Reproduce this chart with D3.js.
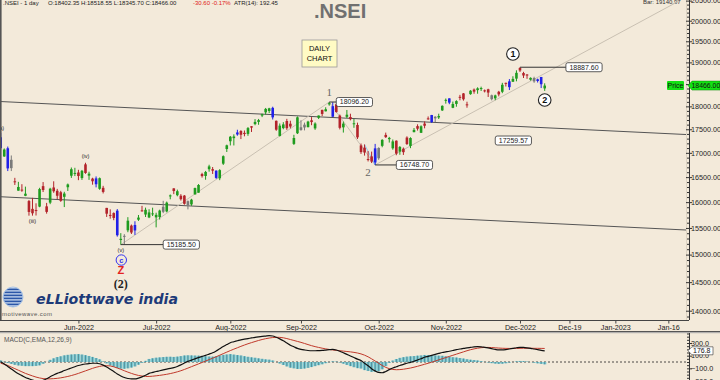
<!DOCTYPE html>
<html>
<head>
<meta charset="utf-8">
<script src="https://cdnjs.cloudflare.com/ajax/libs/d3/7.8.5/d3.min.js"></script>
<style>
  body { margin: 0; background: #f3eada; }
  svg { display: block; }
</style>
</head>
<body>
<div id="chart"></div>
<script>
// ---- data (NSEI daily) ----
var dates = [
 "2022-04-29",
 "2022-05-02","2022-05-04","2022-05-05","2022-05-06","2022-05-09","2022-05-10","2022-05-11","2022-05-12","2022-05-13","2022-05-16",
 "2022-05-17","2022-05-18","2022-05-19","2022-05-20","2022-05-23","2022-05-24","2022-05-25","2022-05-26","2022-05-27","2022-05-30","2022-05-31",
 "2022-06-01","2022-06-02","2022-06-03","2022-06-06","2022-06-07","2022-06-08","2022-06-09","2022-06-10","2022-06-13","2022-06-14","2022-06-15",
 "2022-06-16","2022-06-17","2022-06-20","2022-06-21","2022-06-22","2022-06-23","2022-06-24","2022-06-27","2022-06-28","2022-06-29","2022-06-30",
 "2022-07-01","2022-07-04","2022-07-05","2022-07-06","2022-07-07","2022-07-08","2022-07-11","2022-07-12","2022-07-13","2022-07-14","2022-07-15",
 "2022-07-18","2022-07-19","2022-07-20","2022-07-21","2022-07-22","2022-07-25","2022-07-26","2022-07-27","2022-07-28","2022-07-29",
 "2022-08-01","2022-08-02","2022-08-03","2022-08-04","2022-08-05","2022-08-08","2022-08-10","2022-08-11","2022-08-12","2022-08-16",
 "2022-08-17","2022-08-18","2022-08-19","2022-08-22","2022-08-23","2022-08-24","2022-08-25","2022-08-26","2022-08-29","2022-08-30",
 "2022-09-01","2022-09-02","2022-09-05","2022-09-06","2022-09-07","2022-09-08","2022-09-09","2022-09-12","2022-09-13","2022-09-14","2022-09-15",
 "2022-09-16","2022-09-19","2022-09-20","2022-09-21","2022-09-22","2022-09-23","2022-09-26","2022-09-27","2022-09-28","2022-09-29","2022-09-30",
 "2022-10-03","2022-10-04","2022-10-06","2022-10-07","2022-10-10","2022-10-11","2022-10-12","2022-10-13","2022-10-14","2022-10-17","2022-10-18",
 "2022-10-19","2022-10-20","2022-10-21","2022-10-24","2022-10-25","2022-10-27","2022-10-28","2022-10-31",
 "2022-11-01","2022-11-02","2022-11-03","2022-11-04","2022-11-07","2022-11-09","2022-11-10","2022-11-11","2022-11-14","2022-11-15","2022-11-16",
 "2022-11-17","2022-11-18","2022-11-21","2022-11-22","2022-11-23","2022-11-24","2022-11-25","2022-11-28","2022-11-29","2022-11-30",
 "2022-12-01","2022-12-02","2022-12-05","2022-12-06","2022-12-07","2022-12-08","2022-12-09","2022-12-12"
];

var opens = [
 17329,
 16924,17096,16855,16415,16227,16248,16125,16021,15868,15845,15912,16318,15917,15990,16291,16225,16196,16105,16296,16528,16579,
 16594,16481,16761,16530,16470,16474,16264,16284,15887,15750,15786,15833,15272,15335,15455,15545,15452,15658,15839,15758,15701,15775,
 15703,15710,15909,15818,16113,16273,16137,16126,16129,16019,15955,16152,16187,16562,16523,16661,16662,16632,16476,16775,17080,
 17244,17310,17432,17463,17423,17401,17566,17612,17659,17797,17868,17898,17967,17683,17357,17525,17679,17620,17188,17414,
 17485,17599,17546,17695,17519,17749,17923,17891,18045,17771,18046,17797,17541,17770,17766,17609,17593,17156,17110,16871,16926,16799,
 17102,17147,17379,17288,17095,17256,17026,17087,17323,17145,17438,17568,17424,17623,17736,17809,17772,17756,17911,
 18130,18178,17968,18054,18212,18289,18045,18272,18376,18363,18398,18358,18382,18247,18179,18326,18326,18528,18430,18553,18625,
 18871,18753,18719,18600,18638,18571,18662,18402
];
var highs = [
 17422,
 17092,17132,16945,16485,16404,16357,16308,16042,16084,15977,16284,16400,15985,16284,16415,16263,16224,16205,16370,16696,16690,
 16649,16646,16794,16610,16487,16514,16492,16324,15887,15859,15800,15864,15401,15382,15707,15565,15628,15749,15927,15892,15861,15891,
 15793,15852,16026,16011,16151,16276,16248,16158,16140,16033,16066,16288,16359,16588,16626,16753,16706,16636,16662,16947,17172,
 17356,17391,17490,17481,17474,17548,17567,17720,17724,17840,17965,17968,17992,17690,17625,17654,17726,17685,17381,17778,
 17695,17644,17683,17764,17650,17799,17925,17980,18096,18092,18046,17820,17667,17920,17838,17722,17643,17196,17176,17037,17026,17188,
 17114,17287,17428,17337,17281,17262,17142,17112,17349,17329,17527,17607,17585,17670,17778,17812,17783,17838,18022,
 18175,18178,18106,18136,18256,18297,18103,18362,18400,18427,18442,18377,18394,18262,18261,18346,18529,18534,18614,18679,18816,
 18888,18781,18728,18654,18668,18625,18664,18518
];
var lows = [
 17072,
 16917,16623,16623,16341,16227,16204,16118,15736,15736,15739,15900,16200,15775,15960,16185,16060,16006,15903,16221,16484,16521,
 16438,16444,16567,16444,16347,16293,16244,16172,15711,15678,15648,15335,15183,15191,15419,15385,15367,15635,15815,15710,15688,15729,
 15511,15661,15785,15800,16056,16158,16115,16031,15950,15858,15928,16152,16187,16490,16447,16611,16564,16465,16438,16749,17018,
 17155,17155,17362,17290,17349,17360,17442,17587,17597,17764,17819,17852,17711,17467,17345,17500,17487,17519,17166,17398,
 17468,17476,17540,17588,17487,17722,17786,17889,18015,17771,17861,17497,17429,17744,17693,17532,17292,16978,16942,16821,16788,16748,
 16855,17117,17315,17216,17065,16950,16960,16956,17165,17098,17435,17472,17421,17520,17707,17637,17654,17723,17899,
 18060,18048,17960,17992,18135,18127,17970,18259,18282,18282,18344,18311,18209,18133,18137,18223,18294,18445,18365,18552,18563,
 18778,18639,18620,18578,18529,18536,18410,18346
];
var closes = [
 17102,
 17069,16678,16683,16411,16301,16240,16167,15808,15782,15842,16259,16240,15809,16266,16215,16126,16026,16170,16352,16661,16585,
 16523,16628,16584,16570,16416,16356,16478,16202,15774,15732,15692,15361,15294,15350,15639,15413,15557,15699,15832,15850,15799,15780,
 15752,15835,15811,15990,16133,16220,16216,16058,15967,15938,16049,16279,16341,16521,16605,16719,16631,16484,16642,16930,17158,
 17340,17345,17388,17382,17398,17525,17535,17659,17698,17825,17944,17957,17758,17491,17578,17605,17523,17559,17313,17759,
 17543,17539,17666,17656,17624,17798,17833,17936,18070,18004,17877,17531,17622,17816,17718,17630,17327,17016,17007,16858,16818,17094,
 16887,17274,17331,17315,17241,16984,17124,17014,17186,17312,17486,17512,17564,17576,17731,17656,17737,17787,18012,
 18145,18083,18053,18117,18203,18157,18028,18350,18329,18403,18410,18344,18308,18160,18244,18267,18484,18513,18563,18618,18758,
 18812,18696,18701,18642,18561,18609,18497,18466
];

// bars MotiveWave paints blue / grey instead of green / red
var blueBars = ["2022-04-29","2022-05-04","2022-06-08","2022-06-16","2022-06-23","2022-07-26","2022-08-03","2022-08-19",
                "2022-09-14","2022-09-30","2022-10-25","2022-11-02","2022-11-28","2022-12-08","2022-12-09"];
var grayBars = ["2022-05-05","2022-06-20","2022-07-05","2022-07-14","2022-09-01","2022-09-02","2022-10-03","2022-10-27",
                "2022-11-21","2022-12-07"];

// MACD(C,EMA,12,26,9)
var macdLine = [
 5,-30,-70,-110,-150,-185,-215,-245,-265,-285,
 -300,-305,-290,-265,-232,-205,-180,-160,-135,-115,
 -95,-75,-55,-42,-32,-25,-20,-20,-28,-50,
 -80,-115,-150,-190,-220,-245,-260,-268,-268,-255,
 -235,-210,-180,-165,-150,-138,-125,-112,-100,-90,
 -70,-45,-15,10,30,50,70,88,105,125,
 145,175,210,245,275,305,320,335,350,360,
 370,380,390,398,405,410,415,410,390,365,
 335,300,265,240,215,200,190,182,178,178,
 180,182,188,195,200,190,170,145,120,95,
 70,45,25,-20,-60,-105,-140,-165,-170,-150,
 -120,-95,-75,-55,-38,-20,-5,12,32,52,
 75,90,105,120,135,150,160,170,182,195,
 205,215,222,230,238,242,240,232,222,210,
 198,190,190,195,205,215,225,232,230,224,
 216,205,195,185,177
];
var signalLine = [
 -20,-35,-55,-80,-105,-130,-155,-180,-200,-220,
 -238,-252,-262,-266,-266,-263,-258,-250,-240,-228,
 -214,-198,-180,-160,-140,-120,-100,-83,-70,-60,
 -58,-62,-75,-95,-115,-138,-160,-180,-198,-212,
 -222,-228,-228,-224,-218,-211,-203,-194,-183,-170,
 -155,-138,-118,-96,-74,-52,-30,-8,15,38,
 60,83,107,132,156,180,203,225,247,268,
 288,306,323,340,355,368,378,386,390,389,
 382,370,355,340,325,310,293,275,258,243,
 230,218,207,198,190,184,178,172,166,160,
 152,142,128,108,82,50,15,-20,-55,-85,
 -105,-118,-122,-120,-114,-105,-95,-82,-68,-52,
 -36,-20,-3,15,34,52,70,88,106,124,
 142,160,178,194,207,218,226,230,230,228,
 224,220,217,215,214,214,215,216,217,217,
 218,216,216,215,214
];
var macdHist = [
 25,5,-15,-30,-45,-55,-60,-65,-65,-65,
 -62,-53,-28,1,34,58,78,90,105,113,
 119,123,125,118,108,95,80,63,42,10,
 -22,-53,-75,-95,-105,-107,-100,-88,-70,-43,
 -13,18,48,59,68,73,78,82,83,80,
 85,93,103,106,104,102,100,96,90,87,
 85,92,103,113,119,125,117,110,103,92,
 82,74,67,58,50,42,37,24,0,-24,
 -47,-70,-90,-100,-110,-110,-103,-93,-80,-65,
 -50,-36,-19,-3,10,6,-8,-27,-46,-65,
 -82,-97,-103,-128,-142,-155,-155,-145,-115,-65,
 -15,23,47,65,76,85,90,94,100,104,
 111,110,108,105,101,98,90,82,76,71,
 63,55,44,36,31,24,14,2,-8,-18,
 -26,-30,-27,-20,-9,1,10,16,13,7,
 -1,-11,-21,-30,-37
];

// axes
var timeTickDates  = ["2022-06-01","2022-07-01","2022-08-01","2022-09-01","2022-10-03","2022-11-01","2022-12-01","2022-12-19","2023-01-01","2023-01-16"];
var timeTickLabels = ["Jun-2022","Jul-2022","Aug-2022","Sep-2022","Oct-2022","Nov-2022","Dec-2022","Dec-19","Jan-2023","Jan-16"];
var priceTicks = [14000,14500,15000,15500,16000,16500,17000,17500,18000,18500,19000,19500,20000,20500];
var macdTicks = [-300,-100,100,300];

// drawings on the chart
var channelUpper = [["2022-04-29",18107],["2023-01-28",17362]];
var channelLower = [["2022-04-29",16106],["2023-01-28",15438]];
var waveLines = [
  [["2022-06-17",15183],["2022-09-13",18096],["2022-09-30",16748],["2023-01-19",20490]]
];
var subWaveLine = [["2022-09-27",17176],["2022-09-30",16748],["2022-10-03",17114]];
var priceMarks = [
  {from:"2022-06-17", to:"2022-07-05", price:15185.50},
  {from:"2022-09-13", to:"2022-09-15", price:18096.20},
  {from:"2022-09-30", to:"2022-10-11", price:16748.70},
  {from:"2022-12-01", to:"2022-12-18", price:18887.60},
  {from:null,         to:"2022-11-22", price:17259.57}
];
var minorLabels = [
  {date:"2022-04-29", price:17527, text:"(a)"},
  {date:"2022-05-13", price:15632, text:"(iii)"},
  {date:"2022-06-03", price:16934, text:"(iv)"},
  {date:"2022-06-17", price:15086, text:"(v)"}
];
var waveText = [
  {date:"2022-09-13", price:18320, text:"1"},
  {date:"2022-09-28", price:16604, text:"2"}
];
var circled = [
  {date:"2022-11-29", price:19198, text:"1"},
  {date:"2022-12-12", price:18142, text:"2"}
];
var lastPrice = 18466.00, lastMacd = 176.8;

// ---- layout ----
var W = 720, H = 380;
var plotR = 686, axisX = 689;
var priceBot = 320, macdTop = 333, macdBot = 380;

var parse = d3.timeParse("%Y-%m-%d");
var lastDay = parse(dates[dates.length - 1]);
function slot(ds) {
  var i = dates.indexOf(ds);
  if (i >= 0) return i;
  return dates.length - 1 + d3.timeDay.count(lastDay, parse(ds));
}

var x = d3.scaleLinear().domain([-0.2, 194]).range([0, plotR]);
var y = d3.scaleLog().domain([14000, 20000]).range([310.7, 20.7]);
var ym = d3.scaleLinear().domain([0, 300]).range([362, 343]);

var svg = d3.select("#chart").append("svg")
  .attr("width", W).attr("height", H)
  .style("font-family", "'Liberation Sans', Arial, sans-serif");

svg.append("rect").attr("width", W).attr("height", H).attr("fill", "#f3eada");

var defs = svg.append("defs");
defs.append("clipPath").attr("id", "clipP").append("rect")
  .attr("x", 0).attr("y", 0).attr("width", plotR).attr("height", priceBot);
defs.append("clipPath").attr("id", "clipM").append("rect")
  .attr("x", 0).attr("y", macdTop).attr("width", plotR).attr("height", macdBot - macdTop);

// ---- header (sits half above the top edge, as in the source) ----
svg.append("text").attr("x", 3).attr("y", 4.5).attr("font-size", 6).attr("fill", "#222")
  .text(".NSEI - 1 day");
svg.append("text").attr("x", 48).attr("y", 4.5).attr("font-size", 6).attr("fill", "#222")
  .text("O:18402.35 H:18518.55 L:18345.70 C:18466.00");
svg.append("text").attr("x", 193).attr("y", 4.5).attr("font-size", 6).attr("fill", "#e02020")
  .text("-30.60 -0.17%");
svg.append("text").attr("x", 234).attr("y", 4.5).attr("font-size", 6).attr("fill", "#222")
  .text("ATR(14): 192.45");
svg.append("text").attr("x", 643).attr("y", 4).attr("font-size", 6).attr("fill", "#333")
  .text("Bar: 19140.97");

svg.append("text").attr("x", 314).attr("y", 18).attr("font-size", 20).attr("font-weight", "bold")
  .attr("fill", "#707070").text(".NSEI");

// ---- price panel ----
var plot = svg.append("g").attr("clip-path", "url(#clipP)");

function lineOf(pts) {
  return d3.line().x(function(p) { return x(slot(p[0])); }).y(function(p) { return y(p[1]); })(pts);
}

[channelUpper, channelLower].forEach(function(c) {
  plot.append("path").attr("d", lineOf(c)).attr("fill", "none")
    .attr("stroke", "#555").attr("stroke-width", 1);
});
waveLines.forEach(function(w) {
  plot.append("path").attr("d", lineOf(w)).attr("fill", "none")
    .attr("stroke", "#c9c0b2").attr("stroke-width", 1);
});
plot.append("path").attr("d", lineOf(subWaveLine)).attr("fill", "none")
  .attr("stroke", "#8ec9ef").attr("stroke-width", 1);

var bars = dates.map(function(d, i) {
  return {date: d, i: i, o: opens[i], h: highs[i], l: lows[i], c: closes[i]};
});
function barColor(d) {
  if (blueBars.indexOf(d.date) >= 0) return "#2020e8";
  if (grayBars.indexOf(d.date) >= 0) return "#7a7a7a";
  return d.c >= d.o ? "#1e9b1e" : "#b3232a";
}
plot.selectAll(".wick").data(bars).enter().append("line")
  .attr("class", "wick")
  .attr("x1", function(d) { return x(d.i); })
  .attr("x2", function(d) { return x(d.i); })
  .attr("y1", function(d) { return y(d.h); })
  .attr("y2", function(d) { return y(d.l); })
  .attr("stroke", barColor).attr("stroke-width", 1);
plot.selectAll(".body").data(bars).enter().append("rect")
  .attr("class", "body")
  .attr("x", function(d) { return x(d.i) - 1.3; })
  .attr("width", 2.6)
  .attr("y", function(d) { return y(Math.max(d.o, d.c)); })
  .attr("height", function(d) { return Math.max(1, Math.abs(y(d.o) - y(d.c))); })
  .attr("fill", barColor);

// price marks (line + value box)
priceMarks.forEach(function(m) {
  var yy = y(m.price), bx = x(slot(m.to));
  if (m.from) {
    plot.append("line").attr("x1", x(slot(m.from))).attr("x2", bx)
      .attr("y1", yy).attr("y2", yy).attr("stroke", "#333").attr("stroke-width", 1);
  }
  var t = m.price.toFixed(2);
  var bw = t.length * 3.9 + 5;
  plot.append("rect").attr("x", bx).attr("y", yy - 4.5).attr("width", bw).attr("height", 9)
    .attr("rx", 2).attr("fill", "#fff").attr("stroke", "#333").attr("stroke-width", 0.8);
  plot.append("text").attr("x", bx + bw / 2).attr("y", yy + 2.4).attr("text-anchor", "middle")
    .attr("font-size", 7).attr("fill", "#222").text(t);
});

// wave labels
minorLabels.forEach(function(l) {
  plot.append("text").attr("x", x(slot(l.date))).attr("y", y(l.price))
    .attr("text-anchor", "middle").attr("dominant-baseline", "central")
    .attr("font-size", 5.5).attr("fill", "#222").text(l.text);
});
waveText.forEach(function(l) {
  plot.append("text").attr("x", x(slot(l.date))).attr("y", y(l.price))
    .attr("text-anchor", "middle").attr("dominant-baseline", "central")
    .attr("font-family", "'Liberation Serif', 'DejaVu Serif', serif")
    .attr("font-size", 11).attr("fill", "#666").text(l.text);
});
circled.forEach(function(l) {
  var cx = x(slot(l.date)), cy = y(l.price);
  plot.append("circle").attr("cx", cx).attr("cy", cy).attr("r", 6.3)
    .attr("fill", "#fff").attr("stroke", "#222").attr("stroke-width", 1.1);
  plot.append("text").attr("x", cx).attr("y", cy + 0.3)
    .attr("text-anchor", "middle").attr("dominant-baseline", "central")
    .attr("font-size", 9).attr("font-weight", "bold").attr("fill", "#111").text(l.text);
});

// (2) wave: circled c, Z, (2)
var c2x = x(slot("2022-06-17"));
plot.append("circle").attr("cx", c2x + 0.5).attr("cy", y(14900)).attr("r", 5.2)
  .attr("fill", "none").attr("stroke", "#3434f0").attr("stroke-width", 1);
plot.append("text").attr("x", c2x + 0.5).attr("y", y(14900))
  .attr("text-anchor", "middle").attr("dominant-baseline", "central")
  .attr("font-size", 7.5).attr("font-weight", "bold").attr("fill", "#3434f0").text("c");
plot.append("text").attr("x", c2x).attr("y", y(14720))
  .attr("text-anchor", "middle").attr("dominant-baseline", "central")
  .attr("font-size", 11).attr("font-weight", "bold").attr("fill", "#e42121").text("Z");
plot.append("text").attr("x", c2x).attr("y", y(14475))
  .attr("text-anchor", "middle").attr("dominant-baseline", "central")
  .attr("font-family", "'Liberation Serif', 'DejaVu Serif', serif")
  .attr("font-size", 12).attr("font-weight", "bold").attr("fill", "#222").text("(2)");

// DAILY CHART note
var note = svg.append("g").attr("transform", "translate(302,40)");
note.append("rect").attr("width", 35).attr("height", 27)
  .attr("fill", "#fffbc4").attr("stroke", "#999").attr("stroke-width", 0.8);
note.append("text").attr("x", 17.5).attr("y", 11).attr("text-anchor", "middle")
  .attr("font-size", 7.5).attr("fill", "#111").text("DAILY");
note.append("text").attr("x", 17.5).attr("y", 21).attr("text-anchor", "middle")
  .attr("font-size", 7.5).attr("fill", "#111").text("CHART");

// logo
var logo = svg.append("g");
defs.append("clipPath").attr("id", "globe").append("circle").attr("cx", 13).attr("cy", 297).attr("r", 10);
var gl = logo.append("g").attr("clip-path", "url(#globe)");
gl.append("circle").attr("cx", 13).attr("cy", 297).attr("r", 10).attr("fill", "#d9e6f5");
d3.range(0, 7).forEach(function(k) {
  gl.append("rect").attr("x", 3).attr("y", 288.5 + k * 3).attr("width", 20).attr("height", 1.8)
    .attr("fill", "#2b57a8");
});
logo.append("circle").attr("cx", 13).attr("cy", 297).attr("r", 10).attr("fill", "none")
  .attr("stroke", "#a9c4e6").attr("stroke-width", 1);
logo.append("text").attr("x", 36).attr("y", 304)
  .attr("font-family", "'DejaVu Sans', sans-serif").attr("font-size", 14)
  .attr("font-style", "italic").attr("font-weight", "bold").attr("fill", "#1d3a78")
  .attr("textLength", 142).attr("lengthAdjust", "spacingAndGlyphs")
  .text("eLLiottwave india");
svg.append("text").attr("x", 2).attr("y", 316).attr("font-size", 6).attr("fill", "#555")
  .attr("letter-spacing", 0.4).text("motivewave.com");

// frame lines
svg.append("line").attr("x1", 0.8).attr("x2", 0.8).attr("y1", 0).attr("y2", 320)
  .attr("stroke", "#555").attr("stroke-width", 1.6);
svg.append("line").attr("x1", plotR + 0.5).attr("x2", plotR + 0.5).attr("y1", 0).attr("y2", priceBot)
  .attr("stroke", "#ddd4c3").attr("stroke-width", 1);
svg.append("line").attr("x1", 0).attr("x2", axisX).attr("y1", priceBot + 0.5).attr("y2", priceBot + 0.5)
  .attr("stroke", "#444").attr("stroke-width", 1);

// ---- price axis ----
var py = y(lastPrice);
var pAxis = svg.append("g").attr("transform", "translate(" + axisX + ",0)")
  .call(d3.axisRight(y).tickValues(priceTicks).tickSize(3).tickFormat(d3.format(".2f")));
var minorTicks = d3.range(13900, 20600, 100).filter(function(v) { return priceTicks.indexOf(v) < 0; });
svg.append("g").attr("transform", "translate(" + axisX + ",0)")
  .call(d3.axisLeft(y).tickValues(minorTicks).tickSize(2).tickFormat(""))
  .call(function(g) { g.select(".domain").remove(); });
svg.append("g").attr("transform", "translate(" + axisX + ",0)")
  .call(d3.axisLeft(y).tickValues(priceTicks).tickSize(3).tickFormat(""))
  .call(function(g) { g.select(".domain").remove(); });
svg.selectAll(".tick line").attr("stroke", "#333");
pAxis.select(".domain").attr("d", "M0.5,0V" + priceBot).attr("stroke", "#333");
pAxis.selectAll("text").attr("font-size", 7.2).attr("fill", "#222").attr("x", 2);
// the tick label under the last-price tag is hidden by it
pAxis.selectAll(".tick").filter(function(v) { return Math.abs(y(v) - py) < 8; })
  .select("text").remove();

// last price tags
svg.append("rect").attr("x", 667).attr("y", py - 4.5).attr("width", 17).attr("height", 9)
  .attr("rx", 1).attr("fill", "#13e013");
svg.append("text").attr("x", 675.5).attr("y", py + 2.5).attr("text-anchor", "middle")
  .attr("font-size", 7).attr("fill", "#111").text("Price");
svg.append("path")
  .attr("d", "M" + (axisX - 1) + "," + py + "L" + (axisX + 3) + "," + (py - 4.5) + "H720V" + (py + 4.5) + "H" + (axisX + 3) + "Z")
  .attr("fill", "#13e013").attr("stroke", "#0a8a0a").attr("stroke-width", 0.5);
svg.append("text").attr("x", axisX + 2.5).attr("y", py + 2.5)
  .attr("font-size", 6.9).attr("fill", "#111").text(lastPrice.toFixed(2));

// ---- time axis ----
var tAxis = svg.append("g").attr("transform", "translate(0," + (priceBot + 0.5) + ")")
  .call(d3.axisBottom(x).tickValues(timeTickDates.map(slot)).tickSize(3)
    .tickFormat(function(d, i) { return timeTickLabels[i]; }));
tAxis.select(".domain").remove();
tAxis.selectAll("line").attr("stroke", "#444");
tAxis.selectAll("text").attr("font-size", 7.2).attr("fill", "#222").attr("y", 4);

svg.append("rect").attr("x", 0).attr("y", 331).attr("width", W).attr("height", 1.2).attr("fill", "#555");
svg.append("rect").attr("x", 0).attr("y", 332.2).attr("width", W).attr("height", 1).attr("fill", "#aaa");

// ---- MACD panel ----
var mp = svg.append("g").attr("clip-path", "url(#clipM)");
mp.append("line").attr("x1", 0).attr("x2", plotR).attr("y1", ym(0)).attr("y2", ym(0))
  .attr("stroke", "#222").attr("stroke-width", 0.8).attr("stroke-dasharray", "2,2");

mp.selectAll(".hist").data(macdHist).enter().append("rect")
  .attr("class", "hist")
  .attr("x", function(d, i) { return x(i) - 1.6; })
  .attr("width", 3.2)
  .attr("y", function(d) { return Math.min(ym(0), ym(d)); })
  .attr("height", function(d) { return Math.abs(ym(d) - ym(0)); })
  .attr("fill", "#77c8d2");
mp.selectAll(".histl").data(macdHist).enter().append("line")
  .attr("class", "histl")
  .attr("x1", function(d, i) { return x(i); })
  .attr("x2", function(d, i) { return x(i); })
  .attr("y1", ym(0))
  .attr("y2", function(d) { return ym(d); })
  .attr("stroke", "#3c6470").attr("stroke-width", 0.6);

var mline = d3.line().x(function(d, i) { return x(i); }).y(function(d) { return ym(d); }).curve(d3.curveMonotoneX);
mp.append("path").attr("d", mline(signalLine)).attr("fill", "none")
  .attr("stroke", "#c0392b").attr("stroke-width", 1);
mp.append("path").attr("d", mline(macdLine)).attr("fill", "none")
  .attr("stroke", "#111").attr("stroke-width", 1.2);

svg.append("text").attr("x", 4).attr("y", 342).attr("font-size", 6.5).attr("fill", "#555")
  .text("MACD(C,EMA,12,26,9)");

var mAxis = svg.append("g").attr("transform", "translate(" + axisX + ",0)")
  .call(d3.axisRight(ym).tickValues(macdTicks).tickSize(3).tickFormat(d3.format(".1f")));
mAxis.select(".domain").attr("d", "M0.5," + macdTop + "V" + macdBot).attr("stroke", "#333");
mAxis.selectAll("line").attr("stroke", "#333");
mAxis.selectAll("text").attr("font-size", 7.2).attr("fill", "#222").attr("x", 2);
svg.append("g").attr("transform", "translate(" + axisX + ",0)")
  .call(d3.axisLeft(ym).tickValues(d3.range(-400, 500, 50)).tickSize(2).tickFormat(""))
  .call(function(g) { g.select(".domain").remove(); g.selectAll("line").attr("stroke", "#333"); });

var my = ym(lastMacd);
svg.append("path")
  .attr("d", "M" + (axisX - 1) + "," + my + "L" + (axisX + 3) + "," + (my - 4) + "H713V" + (my + 4) + "H" + (axisX + 3) + "Z")
  .attr("fill", "#fff").attr("stroke", "#333").attr("stroke-width", 0.6);
svg.append("text").attr("x", axisX + 4).attr("y", my + 2.5)
  .attr("font-size", 7).attr("fill", "#111").text(lastMacd.toFixed(1));
</script>
</body>
</html>
